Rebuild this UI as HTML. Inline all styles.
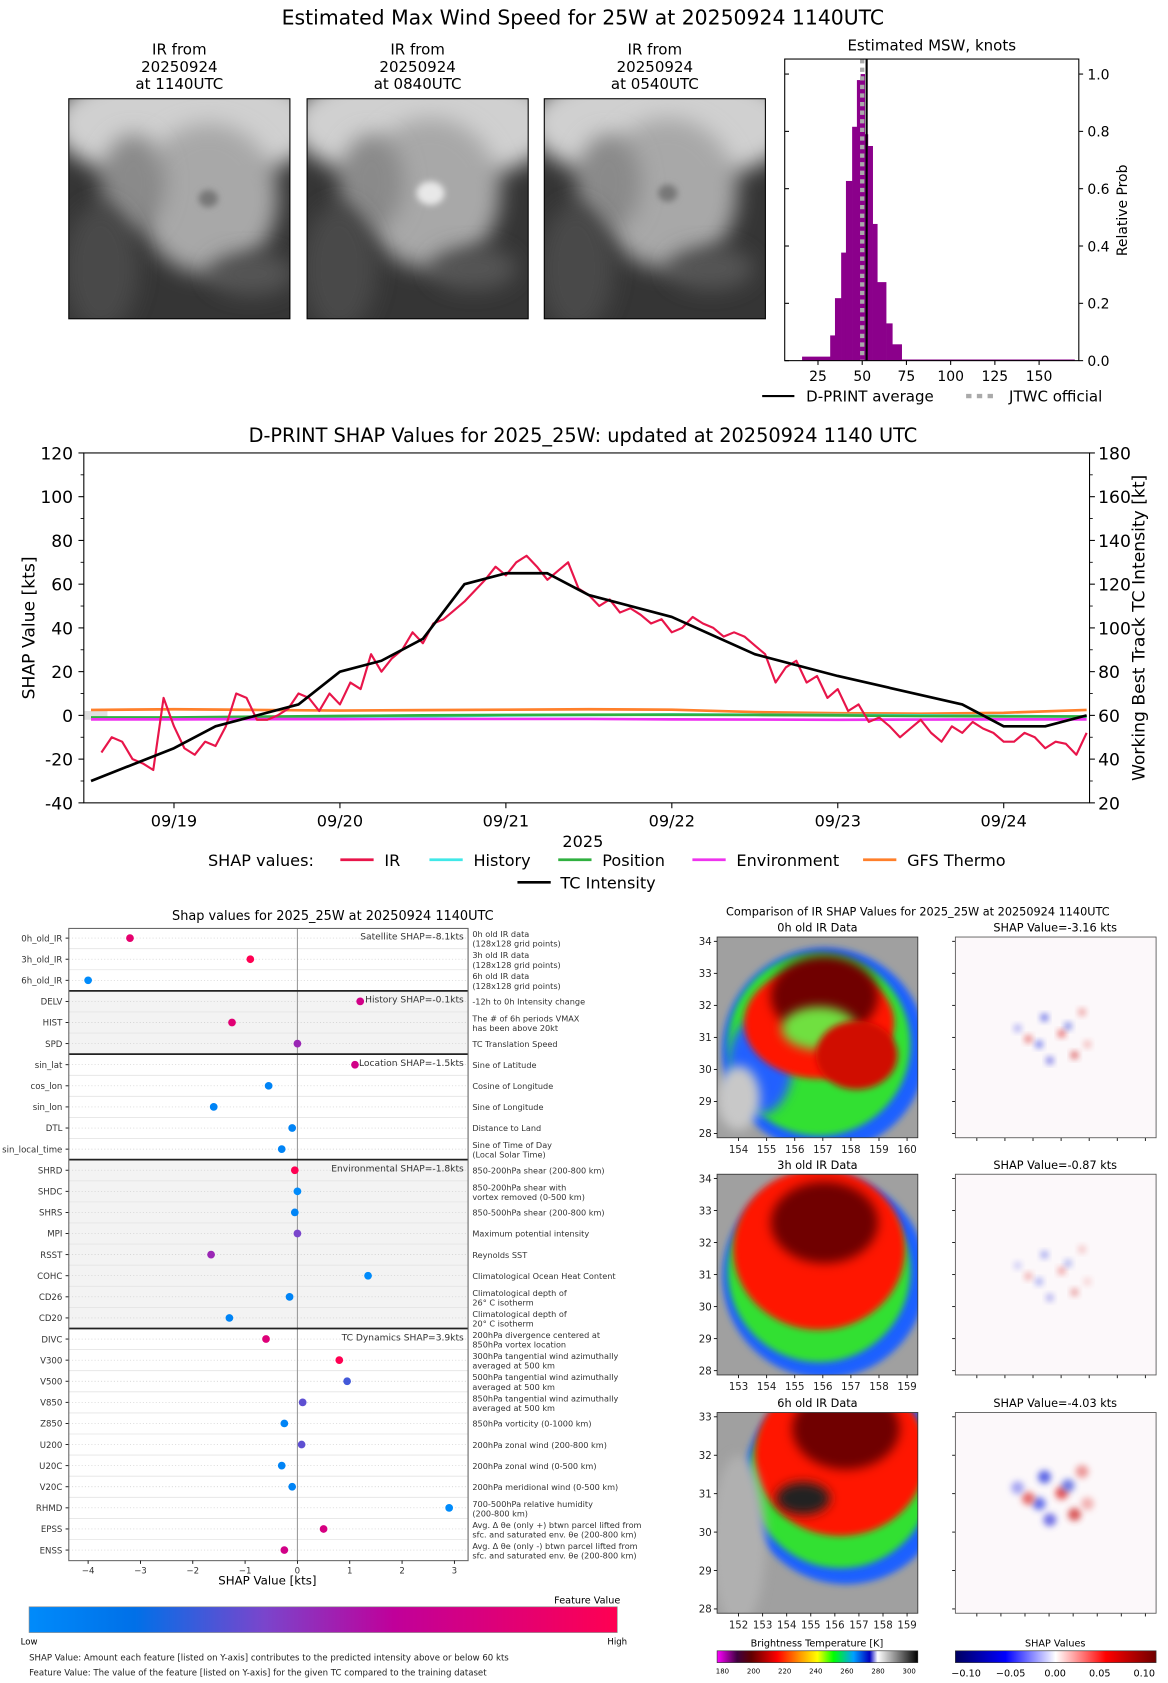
<!DOCTYPE html>
<html><head><meta charset="utf-8"><style>
html,body{margin:0;padding:0;background:#fff;}
svg{display:block;font-family:"DejaVu Sans","Liberation Sans",sans-serif;}
</style></head><body>
<svg id="root" width="1168" height="1683" viewBox="0 0 1088 1568" xmlns="http://www.w3.org/2000/svg">
<defs>
<filter id="blur3" x="-50%" y="-50%" width="200%" height="200%"><feGaussianBlur stdDeviation="10"/></filter>
<filter id="blur1" x="-50%" y="-50%" width="200%" height="200%"><feGaussianBlur stdDeviation="3"/></filter>
<filter id="blur2" x="-50%" y="-50%" width="200%" height="200%"><feGaussianBlur stdDeviation="5"/></filter>
<linearGradient id="shapcb" x1="0" x2="1" y1="0" y2="0">
<stop offset="0" stop-color="#008bfb"/><stop offset="0.18" stop-color="#0070e8"/><stop offset="0.4" stop-color="#7a45cc"/><stop offset="0.62" stop-color="#c0009a"/><stop offset="1" stop-color="#ff0052"/></linearGradient>
<linearGradient id="ircb" x1="0" x2="1" y1="0" y2="0">
<stop offset="0" stop-color="#ff00ff"/><stop offset="0.1" stop-color="#400040"/><stop offset="0.17" stop-color="#600000"/><stop offset="0.3" stop-color="#ff0000"/><stop offset="0.42" stop-color="#ffa000"/><stop offset="0.5" stop-color="#ffff00"/><stop offset="0.58" stop-color="#00ff00"/><stop offset="0.68" stop-color="#00a0ff"/><stop offset="0.76" stop-color="#0000c0"/><stop offset="0.8" stop-color="#ffffff"/><stop offset="1" stop-color="#000000"/></linearGradient>
<linearGradient id="bwrcb" x1="0" x2="1" y1="0" y2="0">
<stop offset="0" stop-color="#000060"/><stop offset="0.25" stop-color="#0000ff"/><stop offset="0.5" stop-color="#ffffff"/><stop offset="0.75" stop-color="#ff0000"/><stop offset="1" stop-color="#700000"/></linearGradient>
</defs>
</svg>
<script>
// ---------- data ----------
const histEdges = [16,31.9,34.6,38.1,40.8,44.3,47,49.1,51.4,53.2,55.9,58.5,63.5,67,72.3,75.9,170];
const histHeights = [0.014,0.088,0.218,0.377,0.627,0.816,0.979,1.0,0.79,0.749,0.477,0.274,0.13,0.057,0.004,0.004];
const dprintAvg = 52.5;
const jtwcOfficial = 50;
const histTicksX = [25,50,75,100,125,150];
const histTicksY = [0.0,0.2,0.4,0.6,0.8,1.0];

const irValues = [-17,-10,-12,-20,-22,-25,8,-5,-15,-18,-12,-14,-5,10,8,-2,-2,0,3,10,8,2,10,5,15,12,28,20,26,30,38,33,42,44,48,52,57,62,68,64,70,73,68,62,66,70,58,55,50,53,47,49,46,42,44,38,40,45,42,40,36,38,36,32,28,15,22,25,15,18,8,12,2,5,-3,-1,-5,-10,-6,-2,-8,-12,-5,-8,-3,-6,-8,-12,-12,-8,-10,-15,-12,-13,-18,-8];
const tcHours = [0,12,18,24,30,36,42,48,54,60,66,72,84,96,108,126,132,138,144];
const tcValues = [30,45,55,60,65,80,85,95,120,125,125,115,105,88,78,65,55,55,60];
const histSeries = [-1.5,-1.3,-1,-0.6,-0.4,0,0.2,0.4,0.3,0.2,0,-0.3,-0.6];
const posSeries = [-1,-1,-0.6,-0.3,0,0.2,0.3,0.3,0.2,0,-0.3,-0.5,-0.5];
const envSeries = [-1.8,-1.8,-1.7,-1.7,-1.6,-1.6,-1.6,-1.8,-1.9,-2,-1.9,-1.8,-1.8];
const gfsSeries = [2.5,2.8,2.5,2.2,2.4,2.6,2.8,2.6,1.5,1.0,0.8,1.2,2.5];
const leftTicks = [120,100,80,60,40,20,0,-20,-40];
const rightTicks = [180,160,140,120,100,80,60,40,20];
const dateLabels = ['09/19','09/20','09/21','09/22','09/23','09/24'];

const featNames = ['0h_old_IR','3h_old_IR','6h_old_IR','DELV','HIST','SPD','sin_lat','cos_lon','sin_lon','DTL','sin_local_time','SHRD','SHDC','SHRS','MPI','RSST','COHC','CD26','CD20','DIVC','V300','V500','V850','Z850','U200','U20C','V20C','RHMD','EPSS','ENSS'];
const shapVals = [-3.2,-0.9,-4.0,1.2,-1.25,0.0,1.1,-0.55,-1.6,-0.1,-0.3,-0.05,0.0,-0.05,0.0,-1.65,1.35,-0.15,-1.3,-0.6,0.8,0.95,0.1,-0.25,0.08,-0.3,-0.1,2.9,0.5,-0.25];
const featVals = [0.85,1.0,0.0,0.72,0.82,0.5,0.72,0.05,0.05,0.05,0.05,1.0,0.0,0.05,0.4,0.5,0.0,0.05,0.05,0.8,1.0,0.3,0.35,0.05,0.35,0.05,0.05,0.0,0.75,0.72];
const featDescs = [['0h old IR data','(128x128 grid points)'],['3h old IR data','(128x128 grid points)'],['6h old IR data','(128x128 grid points)'],['-12h to 0h Intensity change'],['The # of 6h periods VMAX','has been above 20kt'],['TC Translation Speed'],['Sine of Latitude'],['Cosine of Longitude'],['Sine of Longitude'],['Distance to Land'],['Sine of Time of Day','(Local Solar Time)'],['850-200hPa shear (200-800 km)'],['850-200hPa shear with','vortex removed (0-500 km)'],['850-500hPa shear (200-800 km)'],['Maximum potential intensity'],['Reynolds SST'],['Climatological Ocean Heat Content'],['Climatological depth of','26° C isotherm'],['Climatological depth of','20° C isotherm'],['200hPa divergence centered at','850hPa vortex location'],['300hPa tangential wind azimuthally','averaged at 500 km'],['500hPa tangential wind azimuthally','averaged at 500 km'],['850hPa tangential wind azimuthally','averaged at 500 km'],['850hPa vorticity (0-1000 km)'],['200hPa zonal wind (200-800 km)'],['200hPa zonal wind (0-500 km)'],['200hPa meridional wind (0-500 km)'],['700-500hPa relative humidity','(200-800 km)'],['Avg. Δ θe (only +) btwn parcel lifted from','sfc. and saturated env. θe (200-800 km)'],['Avg. Δ θe (only -) btwn parcel lifted from','sfc. and saturated env. θe (200-800 km)']];
const groupStarts = [0,3,6,11,19];
const groupLabels = ['Satellite SHAP=-8.1kts','History SHAP=-0.1kts','Location SHAP=-1.5kts','Environmental SHAP=-1.8kts','TC Dynamics SHAP=3.9kts'];
const shapTicks = [-4,-3,-2,-1,0,1,2,3];

// ---------- helpers ----------
const NS='http://www.w3.org/2000/svg';
const root=document.getElementById('root');
function mk(tag,attrs,name,parent){
  const e=document.createElementNS(NS,tag);
  for(const k in attrs) e.setAttribute(k,attrs[k]);
  
  
  (parent||root).appendChild(e);
  return e;
}
function T(x,y,s,size,name,opt,parent){
  opt=opt||{};
  const e=mk('text',Object.assign({x:x,y:y,'font-size':size,'text-anchor':opt.a||'middle',fill:opt.fill||'#000'},opt.attrs||{}),name,parent);
  e.textContent=s;return e;
}
function line(x1,y1,x2,y2,stroke,w,name,extra){return mk('line',Object.assign({x1:x1,y1:y1,x2:x2,y2:y2,stroke:stroke,'stroke-width':w},extra||{}),name);}
const defsEl=root.querySelector('defs');

// ---------- top title ----------
T(543,23,'Estimated Max Wind Speed for 25W at 20250924 1140UTC',19,'main-title');

// ---------- satellite images ----------
const sats=[[64,'1140UTC'],[286,'0840UTC'],[507,'0540UTC']];
sats.forEach((s,i)=>{
  const x=s[0];
  T(x+103,51,'IR from',14,'ir-label-line1');
  T(x+103,67,'20250924',14,'ir-label-line2');
  T(x+103,83,'at '+s[1],14,'ir-label-line3');
  const g=mk('g',{},'satellite-image-'+i);
  mk('rect',{x:x,y:92,width:206,height:205,fill:'#353535'},'sat-bg',g);
  const cp=mk('clipPath',{id:'c'+i},'sat-clip',defsEl);
  mk('rect',{x:x,y:92,width:206,height:205},'sat-clip-rect',cp);
  const cg=mk('g',{'clip-path':'url(#c'+i+')'},'sat-clouds',g);
  const cx=x+(i==0?130:115), cy=i==0?185:180;
  mk('ellipse',{cx:x+110,cy:115,rx:125,ry:55,fill:'#d0d0d0',filter:'url(#blur3)'},'cloud-mass',cg);
  mk('ellipse',{cx:cx,cy:cy,rx:65,ry:70,fill:'#a8a8a8',filter:'url(#blur3)'},'cloud-core',cg);
  mk('ellipse',{cx:x+60,cy:170,rx:30,ry:45,fill:'#8a8a8a',filter:'url(#blur3)'},'cloud-band',cg);
  mk('ellipse',{cx:x+30,cy:250,rx:35,ry:60,fill:'#4a4a4a',filter:'url(#blur3)'},'clear-region',cg);
  mk('ellipse',{cx:cx+40,cy:cy+70,rx:40,ry:20,fill:'#555',filter:'url(#blur3)'},'clear-region-2',cg);
  mk('ellipse',{cx:cx,cy:cy,rx:i==1?13:9,ry:i==1?11:8,fill:i==1?'#e8e8e8':'#777',filter:'url(#blur1)'},'eye',cg);
  mk('rect',{x:x,y:92,width:206,height:205,fill:'none',stroke:'#000','stroke-width':1},'sat-frame',g);
});

// ---------- histogram ----------
const hx=v=>762+(v-25)*1.648, hy=p=>336-p*267;
T(868,47,'Estimated MSW, knots',14,'histogram-title');
for(let i=0;i<histHeights.length;i++){
  mk('rect',{x:hx(histEdges[i]),y:hy(histHeights[i]),width:hx(histEdges[i+1])-hx(histEdges[i])+0.3,height:histHeights[i]*267,fill:'#8b008b'},'histogram-bar');
}
line(hx(jtwcOfficial),55,hx(jtwcOfficial),336,'#aaa',4,'jtwc-official-line',{'stroke-dasharray':'4 4'});
line(hx(dprintAvg),55,hx(dprintAvg),336,'#000',2,'dprint-average-line');
mk('rect',{x:731,y:55,width:274,height:281,fill:'none',stroke:'#000','stroke-width':1},'histogram-frame');
histTicksX.forEach(v=>{line(hx(v),336,hx(v),340,'#000',1,'hist-x-tick');T(hx(v),355,String(v),13,'hist-x-tick-label');});
histTicksY.forEach(v=>{line(1005,hy(v),1009,hy(v),'#000',1,'hist-y-tick');T(1013,hy(v)+5,v.toFixed(1),13,'hist-y-tick-label',{a:'start'});line(731,hy(v),735,hy(v),'#000',1,'hist-left-tick');});
T(1050,196,'Relative Prob',13,'hist-y-axis-title',{attrs:{transform:'rotate(-90 1050 196)'}});
line(710,369,740,369,'#000',2,'legend-dprint-line');
T(751,374,'D-PRINT average',14,'legend-dprint-label',{a:'start'});
line(900,369,930,369,'#aaa',4,'legend-jtwc-line',{'stroke-dasharray':'5 5'});
T(940,374,'JTWC official',14,'legend-jtwc-label',{a:'start'});

// ---------- time series ----------
const tx=h=>84.7+h*6.442, ty=v=>422+(120-v)*326/160, tyR=v=>ty(v-60);
T(543,412,'D-PRINT SHAP Values for 2025_25W: updated at 20250924 1140 UTC',18,'timeseries-title');
mk('rect',{x:78,y:ty(2),width:22,height:ty(-2)-ty(2),fill:'#e0e0e0'},'zero-band');
function poly(xs,ys,color,w,name){
  let d='';xs.forEach((x,i)=>{d+=(i?'L':'M')+x.toFixed(1)+' '+ys[i].toFixed(1);});
  return mk('path',{d:d,fill:'none',stroke:color,'stroke-width':w,'stroke-linejoin':'round'},name);
}
const h12=histSeries.map((_,i)=>tx(i*12));
poly(h12,gfsSeries.map(ty),'#ff7f2a',2.5,'gfs-thermo-series');
poly(h12,histSeries.map(ty),'#40e8e8',2.5,'history-series');
poly(h12,posSeries.map(ty),'#30b040',2.5,'position-series');
poly(h12,envSeries.map(ty),'#ee33ee',2.5,'environment-series');
poly(irValues.map((_,i)=>tx(1.5+i*1.5)),irValues.map(ty),'#e8154a',2,'ir-series');
poly(tcHours.map(tx),tcValues.map(tyR),'#000',2.5,'tc-intensity-series');
mk('rect',{x:78,y:422,width:937,height:326,fill:'none',stroke:'#000','stroke-width':1},'timeseries-frame');
leftTicks.forEach(v=>{line(73,ty(v),78,ty(v),'#000',1,'left-y-tick');T(68,ty(v)+6,String(v),16,'left-y-tick-label',{a:'end'});});
rightTicks.forEach(v=>{line(1015,tyR(v),1020,tyR(v),'#000',1,'right-y-tick');T(1023,tyR(v)+6,String(v),16,'right-y-tick-label',{a:'start'});});
for(let v=-30;v<=110;v+=20){line(75,ty(v),78,ty(v),'#000',0.8,'left-minor-tick');line(1015,ty(v),1018,ty(v),'#000',0.8,'right-minor-tick');}
dateLabels.forEach((s,i)=>{const x=tx(12+i*24);line(x,748,x,753,'#000',1,'x-tick');T(x,770,s,15,'x-tick-label');});
T(543,789,'2025',15,'x-axis-title');
T(32,585,'SHAP Value [kts]',16,'left-y-axis-title',{attrs:{transform:'rotate(-90 32 585)'}});
T(1066,585,'Working Best Track TC Intensity [kt]',16,'right-y-axis-title',{attrs:{transform:'rotate(-90 1066 585)'}});
T(243,807,'SHAP values:',15,'legend-title');
[['IR','#e8154a',317],['History','#40e8e8',400],['Position','#30b040',520],['Environment','#ee33ee',645],['GFS Thermo','#ff7f2a',804]].forEach(l=>{
  line(l[2],801,l[2]+31,801,l[1],2.5,'legend-line-'+l[0].toLowerCase());
  T(l[2]+41,807,l[0],15,'legend-label-'+l[0].toLowerCase(),{a:'start'});
});
line(482,822,513,822,'#000',2.5,'legend-line-tc-intensity');
T(522,828,'TC Intensity',15,'legend-label-tc-intensity',{a:'start'});

// ---------- SHAP dot chart ----------
const sx=v=>277+v*48.75, rowY=i=>874+i*19.66;
T(310,857,'Shap values for 2025_25W at 20250924 1140UTC',12,'shap-chart-title');
const sTop=865,sBot=1454;
[1,3].forEach(g=>{
  const y1=rowY(groupStarts[g])-9.83, y2=rowY(groupStarts[g+1])-9.83;
  mk('rect',{x:64,y:y1,width:372,height:y2-y1,fill:'#f3f3f3'},'group-background');
});
featNames.forEach((n,i)=>{
  const y=rowY(i);
  line(64,y,436,y,'#ccc',0.6,'row-gridline',{'stroke-dasharray':'1 2'});
  if(i>0) line(64,y-9.83,436,y-9.83,'#e4e4e4',0.8,'row-separator');
  line(61,y,64,y,'#000',0.8,'y-tick');
  T(58,y+3,n,8,'feature-label',{a:'end',fill:'#333'});
  featDescs[i].forEach((d,k)=>{T(440,y+(featDescs[i].length==1?3:-1+k*9),d,7.6,'feature-description',{a:'start',fill:'#333'});});
});
line(277,sTop,277,sBot,'#999',1,'zero-line');
function lerpC(t){
  const stops=[[0,[0,139,251]],[0.18,[0,112,232]],[0.4,[122,69,204]],[0.62,[192,0,154]],[1,[255,0,82]]];
  for(let i=0;i<stops.length-1;i++){if(t<=stops[i+1][0]){const a=stops[i],b=stops[i+1],f=(t-a[0])/(b[0]-a[0]);return 'rgb('+a[1].map((c,k)=>Math.round(c+(b[1][k]-c)*f)).join(',')+')';}}
  return 'rgb(255,0,82)';
}
shapVals.forEach((v,i)=>{
  mk('circle',{cx:sx(v),cy:rowY(i),r:3.6,fill:lerpC(featVals[i])},'shap-dot');
});
groupStarts.forEach((s,g)=>{
  const y=rowY(s)-9.83;
  if(g>0) line(64,y,436,y,'#222',1.6,'group-separator');
  T(432,y+11,groupLabels[g],8.5,'group-shap-label',{a:'end',fill:'#333'});
});
mk('rect',{x:64,y:sTop,width:372,height:sBot-sTop,fill:'none',stroke:'#666','stroke-width':1},'shap-chart-frame');
shapTicks.forEach(v=>{line(sx(v),sBot,sx(v),sBot+3,'#000',0.8,'shap-x-tick');T(sx(v),sBot+12,(v<0?'−':'')+Math.abs(v),8,'shap-x-tick-label',{fill:'#333'});});
T(249,1476,'SHAP Value [kts]',11,'shap-x-axis-title');
mk('rect',{x:27,y:1497,width:548,height:24,fill:'url(#shapcb)',stroke:'#888','stroke-width':0.6},'feature-colorbar');
T(547,1494,'Feature Value',9,'colorbar-title');
T(27,1532,'Low',8,'colorbar-low-label');
T(575,1532,'High',8,'colorbar-high-label');
T(27,1547,'SHAP Value: Amount each feature [listed on Y-axis] contributes to the predicted intensity above or below 60 kts',8,'shap-footnote',{a:'start',fill:'#222'});
T(27,1561,'Feature Value: The value of the feature [listed on Y-axis] for the given TC compared to the training dataset',8,'feature-footnote',{a:'start',fill:'#222'});

// ---------- IR comparison panels ----------
T(855,853,'Comparison of IR SHAP Values for 2025_25W at 20250924 1140UTC',10.5,'ir-comparison-title');
const panels=[[873,'0h old IR Data','SHAP Value=-3.16 kts',[34,33,32,31,30,29,28],[154,155,156,157,158,159,160]],
[1094,'3h old IR Data','SHAP Value=-0.87 kts',[34,33,32,31,30,29,28],[153,154,155,156,157,158,159]],
[1316,'6h old IR Data','SHAP Value=-4.03 kts',[33,32,31,30,29,28],[152,153,154,155,156,157,158,159]]];
panels.forEach((p,i)=>{
  const y=p[0],x=668,w=187,h=187;
  T(x+w/2,y-5,p[1],10.5,'ir-panel-title');
  T(983,y-5,p[2],10.5,'shap-panel-title');
  const cp=mk('clipPath',{id:'ir'+i},'ir-clip',defsEl);
  mk('rect',{x:x,y:y,width:w,height:h},'ir-clip-rect',cp);
  const g=mk('g',{'clip-path':'url(#ir'+i+')'},'ir-image-'+i);
  mk('rect',{x:x,y:y,width:w,height:h,fill:'#a0a0a0'},'ir-bg',g);
  const ox=i==2?20:0, oy=i==0?20:(i==1?10:-20);
  mk('ellipse',{cx:x+100+ox,cy:y+85+oy,rx:95,ry:95,fill:'#1e60ff',filter:'url(#blur1)'},'ir-blue-band',g);
  mk('ellipse',{cx:x+95+ox,cy:y+80+oy,rx:85,ry:85,fill:'#30e030',filter:'url(#blur1)'},'ir-green-band',g);
  if(i==0){mk('ellipse',{cx:x+40,cy:y+120,rx:30,ry:45,fill:'#2060ff',filter:'url(#blur2)'},'ir-blue-patch',g);
    mk('ellipse',{cx:x+20,cy:y+150,rx:20,ry:30,fill:'#c8c8c8',filter:'url(#blur2)'},'ir-gray-patch',g);}
  mk('ellipse',{cx:x+95+ox,cy:y+60+oy,rx:i==0?70:80,ry:i==0?52:75,fill:'#ff1800',filter:'url(#blur1)'},'ir-red-cloud',g);
  mk('ellipse',{cx:x+100+ox,cy:y+35+oy,rx:50,ry:38,fill:'#700000',filter:'url(#blur2)'},'ir-dark-core',g);
  if(i==0){mk('ellipse',{cx:x+95,cy:y+85,rx:35,ry:20,fill:'#70e040',filter:'url(#blur2)'},'ir-moat',g);
    mk('ellipse',{cx:x+130,cy:y+110,rx:38,ry:32,fill:'#d01000',filter:'url(#blur1)'},'ir-eyewall',g);}
  if(i==2){mk('ellipse',{cx:x+80,cy:y+80,rx:25,ry:15,fill:'#222',filter:'url(#blur2)'},'ir-cold-top',g);
    mk('ellipse',{cx:x+20,cy:y+120,rx:25,ry:80,fill:'#b0b0b0',filter:'url(#blur2)'},'ir-gray-edge',g);}
  mk('rect',{x:x,y:y,width:w,height:h,fill:'none',stroke:'#333','stroke-width':0.8},'ir-frame');
  const lat=p[3], lon=p[4];
  lat.forEach((v,k)=>{const yy=y+4+k*(h-8)/(lat.length-1);line(x-3,yy,x,yy,'#000',0.8,'lat-tick');T(x-5,yy+3.5,String(v),9.5,'lat-tick-label',{a:'end',fill:'#222'});line(890-3,yy,890,yy,'#000',0.8,'shap-lat-tick');});
  lon.forEach((v,k)=>{const xx=x+20+k*(w-30)/(lon.length-1);line(xx,y+h,xx,y+h+3,'#000',0.8,'lon-tick');T(xx,y+h+14,String(v),9.5,'lon-tick-label',{fill:'#222'});line(xx+222,y+h,xx+222,y+h+3,'#000',0.8,'shap-lon-tick');});
  const sg=mk('g',{},'shap-map-'+i);
  mk('rect',{x:890,y:y,width:187,height:187,fill:'#fcf8fa'},'shap-map-bg',sg);
  const cxs=983,cys=y+(i==2?80:95);
  const blobs=[[-10,-20,'#3040e0'],[6,-5,'#e03030'],[-15,5,'#4050e8'],[-25,0,'#e04848'],[12,-12,'#5060e0'],[18,15,'#d03030'],[-5,20,'#5050e0'],[25,-25,'#e88080'],[-35,-10,'#9090f0'],[30,5,'#f0a0a0']];
  blobs.forEach(b=>{mk('circle',{cx:cxs+b[0],cy:cys+b[1],r:i==2?6:3.5,fill:b[2],opacity:i==1?0.5:0.8,filter:'url(#blur1)'},'shap-blob',sg);});
  mk('rect',{x:890,y:y,width:187,height:187,fill:'none',stroke:'#555','stroke-width':0.8},'shap-map-frame');
});
mk('rect',{x:668,y:1538,width:187,height:11,fill:'url(#ircb)',stroke:'#333','stroke-width':0.6},'brightness-colorbar');
T(761,1534,'Brightness Temperature [K]',9,'brightness-colorbar-title');
[180,200,220,240,260,280,300].forEach((v,k)=>T(668+k*29+5,1559,String(v),6.5,'brightness-tick-label'));
mk('rect',{x:890,y:1538,width:187,height:11,fill:'url(#bwrcb)',stroke:'#333','stroke-width':0.6},'shap-value-colorbar');
T(983,1534,'SHAP Values',9,'shap-colorbar-title');
['−0.10','−0.05','0.00','0.05','0.10'].forEach((s,k)=>T(900+k*41.5,1562,s,9,'shap-colorbar-tick-label'));
</script>
</body></html>
